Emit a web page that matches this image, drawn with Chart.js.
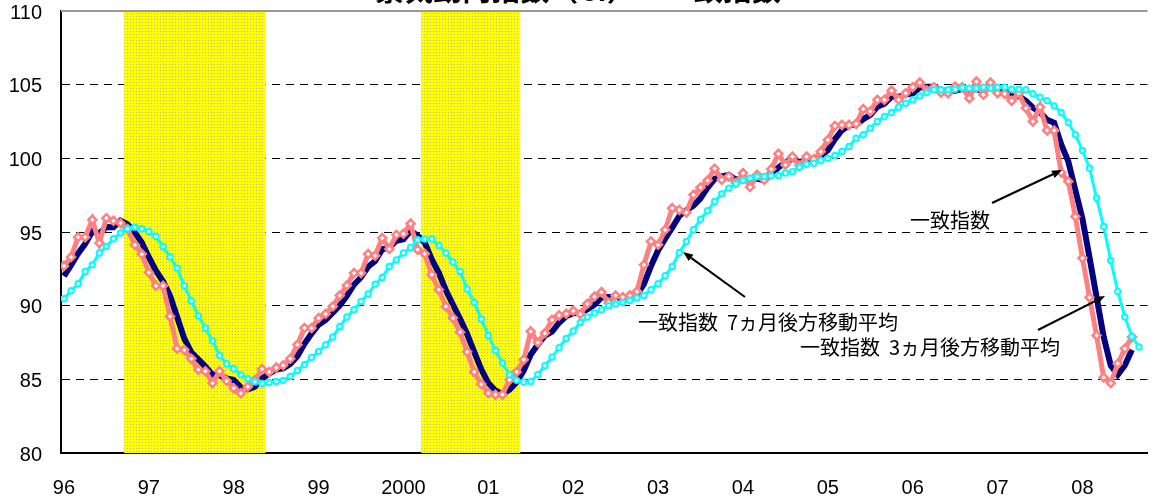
<!DOCTYPE html>
<html>
<head>
<meta charset="utf-8">
<script src="https://cdn.jsdelivr.net/npm/chart.js@4.4.1/dist/chart.umd.min.js"></script>
<style>
  html, body { margin: 0; padding: 0; background: #ffffff; overflow: hidden; }
  canvas { display: block; }
</style>
</head>
<body>
<canvas id="chart" width="1154" height="499"></canvas>
<script>
// Year tick labels, one every 12 months starting with the first month
const yearLabels = ['96', '97', '98', '99', '2000', '01', '02', '03', '04', '05', '06', '07', '08'];
const yTicks = [80, 85, 90, 95, 100, 105, 110];

// CI coincident index, monthly
const coincident = [
  92.7, 93.3, 94.65, 94.65, 95.83, 94.25, 95.94, 95.76, 95.6, 95.2,
  94.13, 93.5, 92.25, 91.35, 91.35, 89.27, 87.08, 87.0, 86.4, 85.65,
  85.55, 84.75, 85.55, 84.9, 84.4, 84.05, 84.5, 84.95, 85.7, 85.5,
  85.8, 85.95, 86.4, 87.35, 88.48, 88.48, 89.16, 89.45, 89.95, 90.69,
  91.37, 92.21, 92.21, 93.5, 93.39, 94.59, 93.84, 94.81, 94.88, 95.56,
  93.8, 93.52, 92.1, 91.08, 89.95, 89.16, 88.2, 86.87, 85.5, 84.68,
  84.07, 83.96, 83.96, 84.97, 85.5, 86.33, 88.25, 87.5, 88.14, 89.04,
  89.34, 89.45, 89.65, 89.43, 90.13, 90.62, 90.92, 90.2, 90.69, 90.58,
  90.69, 90.96, 92.77, 94.36, 94.13, 95.15, 96.62, 96.5, 96.32, 97.52,
  98.02, 98.5, 99.3, 98.54, 98.77, 98.32, 99.0, 98.05, 98.88, 98.54,
  99.27, 100.31, 99.56, 100.12, 99.5, 100.12, 99.94, 100.46, 101.25, 102.2,
  102.27, 102.27, 102.34, 103.34, 103.18, 103.97, 103.97, 104.6, 103.97, 104.42,
  104.83, 105.14, 104.6, 104.83, 104.46, 104.42, 104.87, 104.83, 104.08, 105.21,
  104.31, 105.14, 104.42, 104.38, 103.9, 104.42, 103.41, 102.5, 103.48, 101.89,
  101.89, 99.04, 98.43, 96.05, 93.23, 90.56, 87.98, 85.13, 84.75, 86.06,
  87.08, 87.87
];

// 3-month backward moving average
const ma3 = [
  92.0, 92.75, 93.55, 94.2, 95.04, 94.91, 95.34, 95.32, 95.77, 95.52,
  94.98, 94.28, 93.29, 92.37, 91.65, 90.66, 89.23, 87.78, 86.83, 86.35,
  85.87, 85.32, 85.28, 85.07, 84.95, 84.45, 84.32, 84.5, 85.05, 85.38,
  85.67, 85.75, 86.05, 86.57, 87.41, 88.1, 88.71, 89.03, 89.52, 90.03,
  90.67, 91.42, 91.93, 92.64, 93.03, 93.83, 93.94, 94.41, 94.51, 95.08,
  94.75, 94.29, 93.14, 92.23, 91.04, 90.06, 89.1, 88.08, 86.86, 85.68,
  84.75, 84.24, 84.0, 84.3, 84.81, 85.6, 86.69, 87.36, 87.96, 88.23,
  88.84, 89.28, 89.48, 89.51, 89.74, 90.06, 90.56, 90.58, 90.6, 90.49,
  90.65, 90.74, 91.47, 92.7, 93.75, 94.55, 95.3, 96.09, 96.48, 96.78,
  97.29, 98.01, 98.61, 98.78, 98.87, 98.54, 98.7, 98.46, 98.64, 98.49,
  98.9, 99.37, 99.71, 100.0, 99.73, 99.91, 99.85, 100.17, 100.55, 101.3,
  101.91, 102.25, 102.29, 102.65, 102.95, 103.5, 103.71, 104.18, 104.18, 104.33,
  104.41, 104.8, 104.86, 104.86, 104.63, 104.57, 104.58, 104.71, 104.59, 104.71,
  104.53, 104.89, 104.62, 104.65, 104.23, 104.23, 103.91, 103.44, 103.13, 102.62,
  102.42, 100.94, 99.79, 97.84, 95.9, 93.28, 90.59, 87.89, 85.95, 85.31,
  85.96, 87.0
];

// 7-month backward moving average
const ma7 = [
  90.47, 91.01, 91.49, 92.32, 92.77, 93.57, 94.02, 94.54, 94.93, 95.22,
  95.33, 95.22, 95.03, 94.69, 94.02, 93.3, 92.55, 91.35, 90.33, 89.31,
  88.48, 87.62, 86.62, 86.06, 85.72, 85.31, 85.04, 84.83, 84.72, 84.79,
  84.86, 84.93, 85.2, 85.6, 85.99, 86.49, 86.9, 87.35, 87.87, 88.59,
  89.23, 89.72, 90.28, 90.79, 91.46, 91.91, 92.66, 93.11, 93.57, 93.95,
  94.47, 94.52, 94.52, 94.08, 93.57, 92.96, 92.32, 91.13, 90.22, 89.09,
  87.98, 86.96, 86.11, 85.31, 84.93, 84.82, 84.86, 85.33, 85.92, 86.51,
  87.15, 87.77, 88.28, 88.86, 89.23, 89.5, 89.72, 90.0, 90.11, 90.22,
  90.35, 90.52, 90.69, 91.08, 91.49, 92.03, 92.66, 93.61, 94.36, 95.15,
  95.87, 96.44, 97.07, 97.59, 97.98, 98.27, 98.5, 98.66, 98.77, 98.77,
  98.81, 98.83, 99.0, 99.1, 99.4, 99.6, 99.67, 99.85, 100.0, 100.19,
  100.46, 100.8, 101.37, 101.6, 102.05, 102.5, 102.84, 103.11, 103.47, 103.74,
  103.97, 104.24, 104.46, 104.65, 104.65, 104.65, 104.69, 104.8, 104.76, 104.76,
  104.83, 104.76, 104.83, 104.83, 104.69, 104.69, 104.65, 104.38, 104.15, 103.92,
  103.56, 103.11, 102.43, 101.6, 100.53, 99.33, 97.3, 95.37, 93.07, 90.96,
  89.23, 87.91, 87.19
];

// Recession bands: first and last month index inside each band
const recessionStart = [9, 51];
const recessionEnd = [28, 64];

const toPoints = arr => arr.map((v, i) => ({ x: i, y: v }));

// Dotted yellow fill for the recession bands
function makeBandPattern(ctx) {
  const tile = document.createElement('canvas');
  tile.width = 3; tile.height = 3;
  const t = tile.getContext('2d');
  t.fillStyle = '#ffff00';
  t.fillRect(0, 0, 3, 3);
  t.fillStyle = '#b4b49a';
  t.fillRect(1, 1, 1, 1);
  return ctx.createPattern(tile, 'repeat');
}

function drawArrow(ctx, x1, y1, x2, y2) {
  const ang = Math.atan2(y2 - y1, x2 - x1);
  const hl = 10, hw = 4;
  const bx = x2 - hl * Math.cos(ang), by = y2 - hl * Math.sin(ang);
  ctx.save();
  ctx.strokeStyle = '#000';
  ctx.fillStyle = '#000';
  ctx.lineWidth = 2;
  ctx.beginPath();
  ctx.moveTo(x1, y1);
  ctx.lineTo(bx, by);
  ctx.stroke();
  ctx.beginPath();
  ctx.moveTo(x2, y2);
  ctx.lineTo(bx + hw * Math.sin(ang), by - hw * Math.cos(ang));
  ctx.lineTo(bx - hw * Math.sin(ang), by + hw * Math.cos(ang));
  ctx.closePath();
  ctx.fill();
  ctx.restore();
}

const decorations = {
  id: 'decorations',
  beforeDatasetsDraw(chart) {
    const { ctx, chartArea, scales } = chart;
    const xs = scales.x;
    ctx.save();
    ctx.fillStyle = makeBandPattern(ctx);
    recessionStart.forEach((s, k) => {
      const x0 = xs.getPixelForValue(s - 0.5);
      const x1 = xs.getPixelForValue(recessionEnd[k] + 0.5);
      ctx.fillRect(x0, chartArea.top, x1 - x0, chartArea.bottom - chartArea.top);
    });
    // plot frame top edge
    ctx.strokeStyle = '#9a9a9a';
    ctx.lineWidth = 2;
    ctx.beginPath();
    ctx.moveTo(chartArea.left, chartArea.top);
    ctx.lineTo(chartArea.right, chartArea.top);
    ctx.stroke();
    ctx.restore();
  },
  afterDraw(chart) {
    const { ctx } = chart;
    ctx.save();
    // chart title
    ctx.fillStyle = '#000';
    ctx.font = 'bold 29px "Noto Sans CJK JP"';
    ctx.textAlign = 'center';
    ctx.textBaseline = 'bottom';
    ctx.fillText('景気動向指数（CI）－一致指数', 578, 4);

    // series call-outs
    ctx.font = '20px "Noto Sans CJK JP"';
    ctx.textAlign = 'left';
    ctx.textBaseline = 'middle';
    ctx.fillText('一致指数', 910, 220);
    ctx.fillText('一致指数  7ヵ月後方移動平均', 638, 322);
    ctx.fillText('一致指数  3ヵ月後方移動平均', 800, 347);
    ctx.restore();

    drawArrow(ctx, 992, 203, 1062, 170);
    drawArrow(ctx, 745, 297, 683, 252);
    drawArrow(ctx, 1038, 330, 1105, 296);
  }
};

const tickFont = { family: '"Liberation Sans", Arial, sans-serif', size: 20, lineHeight: 1.2 };

new Chart(document.getElementById('chart'), {
  type: 'line',
  data: {
    datasets: [
      {
        label: '一致指数  7ヵ月後方移動平均',
        data: toPoints(ma7),
        order: 1,
        borderColor: '#00ffff',
        borderWidth: 3,
        pointStyle: 'circle',
        pointRadius: 2.7,
        pointBorderWidth: 2,
        pointBackgroundColor: '#ffffff',
        pointBorderColor: '#00ffff',
        tension: 0
      },
      {
        label: '一致指数',
        data: toPoints(coincident),
        order: 2,
        borderColor: '#ff8080',
        borderWidth: 5,
        pointStyle: 'rectRot',
        pointRadius: 4,
        pointBorderWidth: 2.5,
        pointBackgroundColor: '#ffffff',
        pointBorderColor: '#ff8080',
        tension: 0
      },
      {
        label: '一致指数  3ヵ月後方移動平均',
        data: toPoints(ma3),
        order: 3,
        borderColor: '#000080',
        borderWidth: 6,
        pointRadius: 0,
        tension: 0
      }
    ]
  },
  options: {
    responsive: false,
    animation: false,
    devicePixelRatio: 1,
    layout: { padding: { top: 11, right: 0, bottom: 0, left: 0 } },
    plugins: { legend: { display: false }, tooltip: { enabled: false }, title: { display: false } },
    scales: {
      x: {
        type: 'linear',
        min: -0.42,
        max: 153.2,
        afterBuildTicks: s => { s.ticks = yearLabels.map((_, k) => ({ value: k * 12 })); },
        afterFit: s => { s.height = 46; s.paddingLeft = 0; s.paddingRight = 0; },
        grid: { display: false, drawTicks: false },
        border: { display: true, color: '#000', width: 2 },
        ticks: {
          autoSkip: false,
          maxRotation: 0,
          padding: 23,
          color: '#000',
          font: tickFont,
          callback: v => yearLabels[Math.round(v / 12)]
        }
      },
      y: {
        min: 80,
        max: 110,
        afterBuildTicks: s => { s.ticks = yTicks.map(v => ({ value: v })); },
        afterFit: s => { s.width = 61; s.paddingTop = 0; s.paddingBottom = 0; },
        grid: {
          drawTicks: false,
          lineWidth: 1,
          color: c => (c.tick && (c.tick.value === 80 || c.tick.value === 110)) ? 'rgba(0,0,0,0)' : '#000'
        },
        border: { display: true, color: '#000', width: 2, dash: [8, 6] },
        ticks: {
          padding: 19,
          labelOffset: 2,
          color: '#000',
          font: { family: '"Liberation Sans", Arial, sans-serif', size: 20, lineHeight: 1 }
        }
      }
    }
  },
  plugins: [decorations]
});
</script>
</body>
</html>
